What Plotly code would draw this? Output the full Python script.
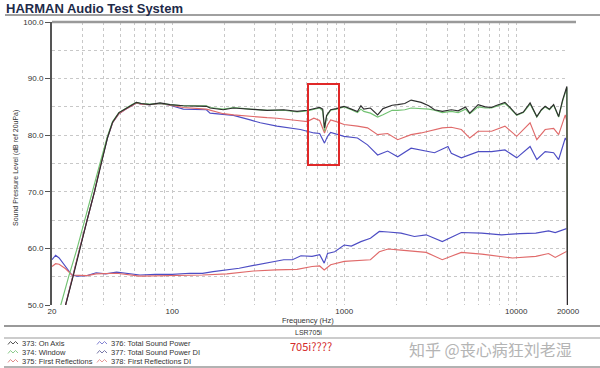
import plotly.graph_objects as go

# ---------------- data ----------------
freq_on_axis = [20, 22, 24, 26.5, 29, 32, 35.3, 38.5, 42, 45, 49, 53, 58, 62, 66, 74, 85, 97, 116, 158, 166, 198, 227, 284, 356, 445, 532, 609, 666, 720, 750, 768, 790, 834, 900, 998, 1100, 1194, 1250, 1300, 1420, 1564, 1680, 1900, 2046, 2250, 2448, 2800, 3100, 3350, 3716, 4194, 4600, 5066, 5368, 6008, 6600, 7189, 7580, 8598, 9200, 10067, 11000, 12038, 13174, 14000, 14733, 15600, 16498, 17646, 18600, 19287, 19700, 20000]
spl_on_axis = [38, 44, 50, 55, 60, 65, 70, 75, 79.5, 82.3, 84.0, 84.6, 85.3, 85.8, 85.6, 85.4, 85.7, 85.4, 85.2, 85.1, 84.8, 84.5, 84.8, 84.6, 84.4, 84.5, 84.2, 84.4, 84.7, 84.9, 84.6, 81.3, 83.5, 84.5, 84.7, 85.1, 84.6, 84.2, 85.2, 84.6, 84.8, 83.6, 84.7, 85.3, 85.4, 85.6, 86.2, 85.8, 85.2, 84.5, 84.2, 84.5, 84.3, 85.0, 83.9, 85.4, 85.0, 84.9, 85.2, 85.8, 84.9, 83.6, 84.1, 85.7, 83.3, 84.5, 85.1, 84.6, 85.4, 83.3, 86.2, 87.5, 88.6, 20]

freq_window = [20, 22.5, 25, 28, 31, 34.5, 38, 42, 45, 49, 53, 58, 62, 66, 74, 85, 97, 116, 158, 166, 198, 227, 284, 356, 445, 532, 609, 666, 720, 750, 768, 790, 834, 900, 998, 1100, 1194, 1250, 1300, 1420, 1564, 1680, 1900, 2046, 2250, 2448, 2800, 3100, 3350, 3716, 4194, 4600, 5066, 5368, 6008, 6600, 7189, 7580, 8598, 9200, 10067, 11000, 12038, 13174, 14000, 14733, 15600, 16498, 17646, 18600, 19287, 19700, 20000]
spl_window = [41, 50, 55, 60, 65, 70, 75, 79.8, 82.4, 84.0, 84.7, 85.4, 85.8, 85.6, 85.5, 85.6, 85.4, 85.2, 85.2, 84.9, 84.6, 84.9, 84.6, 84.4, 84.4, 84.1, 84.3, 84.6, 84.8, 84.3, 80.7, 83.3, 84.4, 84.6, 85.0, 84.5, 84.0, 84.6, 84.2, 83.9, 83.2, 83.6, 84.4, 84.4, 84.5, 84.8, 84.7, 84.6, 84.4, 84.0, 84.2, 84.0, 84.6, 83.8, 85.0, 84.8, 84.8, 85.0, 85.6, 84.8, 83.5, 84.0, 85.5, 83.2, 84.4, 85.0, 84.5, 85.3, 83.2, 86.0, 87.3, 88.4, 20]

freq_first_refl = [20, 24, 29, 35.3, 38.5, 42, 45, 49, 53, 58, 62, 66, 74, 85, 97, 116, 158, 166, 198, 227, 284, 356, 406, 445, 532, 609, 666, 720, 768, 800, 834, 900, 998, 1194, 1366, 1564, 1788, 2046, 2448, 2800, 3350, 3716, 4194, 4798, 5368, 6008, 7189, 8598, 10067, 12038, 13174, 14733, 16498, 17646, 19287, 19700, 20000]
spl_first_refl = [39, 50, 60, 70, 75, 79.6, 82.2, 83.8, 84.5, 85.2, 85.7, 85.5, 85.4, 85.6, 85.3, 84.9, 84.6, 84.4, 83.8, 83.6, 83.3, 83.1, 83.0, 82.9, 82.6, 82.4, 83.0, 82.6, 80.4, 81.8, 82.7, 82.4, 81.9, 81.6, 81.3, 80.1, 80.3, 79.2, 80.1, 80.4, 81.0, 81.3, 81.4, 81.0, 79.5, 80.7, 80.7, 81.6, 79.8, 82.2, 79.2, 81.0, 81.2, 80.1, 83.6, 82.5, 20]

freq_sound_power = [20, 24, 29, 35.3, 38.5, 42, 45, 49, 53, 58, 62, 66, 74, 85, 97, 116, 158, 166, 198, 227, 284, 325, 406, 486, 556, 609, 666, 720, 768, 800, 834, 998, 1194, 1366, 1564, 1788, 2046, 2448, 2800, 3350, 4010, 4194, 4798, 6008, 7189, 8598, 10067, 12038, 13174, 14733, 16498, 17646, 19287, 19700, 20000]
spl_sound_power = [38, 50, 60, 70, 75, 79.5, 82.2, 83.8, 84.5, 85.2, 85.7, 85.5, 85.4, 85.6, 85.3, 84.6, 84.5, 83.9, 83.7, 83.5, 82.7, 82.2, 81.6, 81.3, 81.0, 80.7, 80.4, 80.3, 78.6, 79.8, 80.5, 79.8, 79.5, 78.3, 76.5, 77.2, 76.2, 77.7, 77.3, 76.9, 78.0, 76.8, 76.0, 77.1, 77.1, 77.4, 76.0, 78.0, 75.7, 77.1, 76.9, 75.7, 79.5, 79.0, 20]

freq_sound_power_di = [20, 21, 22, 24, 26.1, 28, 32, 36.1, 41, 47.5, 55, 64.9, 80, 100, 126.5, 150, 173, 208, 245, 297, 350, 445, 500, 560, 650, 720, 765, 800, 880, 1000, 1100, 1250, 1420, 1600, 1800, 2139, 2560, 2995, 3716, 4798, 6300, 8222, 10500, 13000, 15420, 16860, 20000]
spl_sound_power_di = [58.0, 58.8, 58.3, 56.8, 55.3, 55.1, 55.2, 55.7, 55.5, 55.8, 55.6, 55.3, 55.4, 55.4, 55.6, 55.6, 55.9, 56.2, 56.5, 57.0, 57.4, 58.0, 58.0, 58.7, 58.6, 58.9, 57.4, 59.1, 59.4, 60.6, 60.4, 61.2, 61.8, 63.0, 62.9, 62.7, 62.1, 62.4, 61.2, 62.8, 62.7, 62.4, 62.6, 62.7, 63.1, 62.8, 63.6]

freq_first_refl_di = [20, 21, 22, 24, 26.1, 32, 36.1, 47.5, 64.9, 100, 150, 208, 297, 400, 532, 650, 720, 765, 834, 1000, 1250, 1420, 1600, 1800, 2139, 2560, 2995, 3716, 4798, 6300, 8222, 9500, 13000, 15420, 16860, 20000]
spl_first_refl_di = [56.8, 57.3, 57.2, 56.4, 55.3, 55.2, 55.5, 55.6, 55.1, 55.2, 55.3, 55.5, 56.0, 56.2, 56.3, 56.8, 56.9, 56.2, 57.1, 57.7, 57.9, 58.0, 59.4, 59.9, 59.7, 59.5, 59.3, 58.0, 59.3, 59.0, 58.6, 58.3, 58.6, 59.1, 58.4, 59.6]

x_tick_values = [20, 30, 40, 50, 60, 70, 80, 90, 100, 200, 300, 400, 500, 600, 700, 800, 900,
                 1000, 2000, 3000, 4000, 5000, 6000, 7000, 8000, 9000, 10000, 20000]
x_tick_labels = ["20", "", "", "", "", "", "", "", "100", "", "", "", "", "", "", "", "",
                 "1000", "", "", "", "", "", "", "", "", "10000", "20000"]

legend_col1 = ["373: On Axis", "374: Window", "375: First Reflections"]
legend_col2 = ["376: Total Sound Power", "377: Total Sound Power DI", "378: First Reflections DI"]

# ---------------- figure ----------------
C_ON = "#2e2e2e"
C_WIN = "#72c272"
C_FR = "#e06a6a"
C_SP = "#4d4dc4"

series = [
    (freq_sound_power_di, spl_sound_power_di, C_SP),
    (freq_first_refl_di, spl_first_refl_di, C_FR),
    (freq_sound_power, spl_sound_power, C_SP),
    (freq_first_refl, spl_first_refl, C_FR),
    (freq_window, spl_window, C_WIN),
    (freq_on_axis, spl_on_axis, C_ON),
]

fig = go.Figure()
for fx, fy, col in series:
    fig.add_trace(go.Scatter(x=fx, y=fy, mode="lines",
                             line=dict(color=col, width=1.15), hoverinfo="skip"))

L, R, T, B, W, H = 52, 32, 22, 63, 600, 368
PW, PH = W - L - R, H - T - B


def px(x):
    return (x - L) / PW


def py(y):
    return (H - B - y) / PH


FONT = "Arial, Liberation Sans, sans-serif"
GRID = "#c8c8c8"

fig.update_layout(
    width=W, height=H,
    margin=dict(l=L, r=R, t=T, b=B),
    paper_bgcolor="white", plot_bgcolor="white",
    showlegend=False,
    font=dict(family=FONT, size=8, color="#333"),
    xaxis=dict(type="log", range=[1.30103, 4.30103],
               tickvals=x_tick_values, ticktext=x_tick_labels,
               showgrid=True, gridcolor=GRID, griddash="dot", gridwidth=1,
               ticks="", showline=False, zeroline=False,
               tickfont=dict(size=8, color="#333")),
    yaxis=dict(range=[50, 100], tick0=50, dtick=10, tickformat=".1f",
               showgrid=True, gridcolor=GRID, griddash="dot", gridwidth=1,
               minor=dict(dtick=5, showgrid=True, gridcolor=GRID, griddash="dot"),
               showline=True, linecolor="#555", linewidth=2,
               ticks="outside", ticklen=5, tickcolor="#555",
               zeroline=False, tickfont=dict(size=8, color="#333")),
)

shapes = []
# title underline and plot top border
shapes.append(dict(type="line", xref="paper", yref="paper", x0=px(5), x1=px(600), y0=py(15), y1=py(15),
                   line=dict(color="#a0a0a0", width=2)))
shapes.append(dict(type="line", xref="paper", yref="paper", x0=px(52), x1=px(576), y0=py(22), y1=py(22),
                   line=dict(color="#9a9a9a", width=2.5)))
# bottom separators
for yy, c, w in [(326, "#777", 1.5), (338, "#999", 1), (367, "#999", 1.5)]:
    shapes.append(dict(type="line", xref="paper", yref="paper", x0=px(4), x1=px(600), y0=py(yy), y1=py(yy),
                       line=dict(color=c, width=w)))
# red highlight box
shapes.append(dict(type="rect", xref="paper", yref="paper", x0=px(308), x1=px(339), y0=py(165), y1=py(84),
                   line=dict(color="#e02828", width=2)))

# legend icons
icon_colors1 = ["#555555", "#8ccc8c", "#e08a8a"]
icon_colors2 = ["#8484d4", "#7878a8", "#e69a9a"]
rows_y = [343, 352, 361]


def wave(x0, yc, col):
    pts = [(0, 1.5), (2.5, -1.5), (5, 1), (7.5, -1.5), (10, 1)]
    d = "M " + " L ".join(f"{px(x0 + a):.5f},{py(yc + b):.5f}" for a, b in pts)
    return dict(type="path", xref="paper", yref="paper", path=d, line=dict(color=col, width=1))


for i, yy in enumerate(rows_y):
    shapes.append(wave(8, yy, icon_colors1[i]))
    shapes.append(wave(97, yy, icon_colors2[i]))

annotations = []


def text(t, x, y, size, color="#333", xanchor="left", family=FONT, angle=0):
    annotations.append(dict(text=t, x=px(x), y=py(y), xref="paper", yref="paper",
                            xanchor=xanchor, yanchor="middle", showarrow=False, textangle=angle,
                            font=dict(size=size, color=color, family=family)))


text("<b>HARMAN Audio Test System</b>", 4, 8, 13, color="#1d2a48")
text("Sound Pressure Level (dB ref 20uPa)", 16, 168, 7, xanchor="center", angle=-90)
text("Frequency (Hz)", 308, 320.5, 7.5, xanchor="center")
text("LSR705i", 308, 332, 7, xanchor="center")
for i, yy in enumerate(rows_y):
    text(legend_col1[i], 20, yy, 7.5)
    text(legend_col2[i], 109, yy, 7.5)
text("705i????", 311, 346, 11, color="#d42a2a", xanchor="center", family="Noto Sans CJK SC, sans-serif")
text("知乎 @丧心病狂刘老湿", 490, 349, 16, color="#b4b4b4", xanchor="center",
     family="Noto Sans CJK SC, sans-serif")

fig.update_layout(shapes=shapes, annotations=annotations)

fig.write_html("out.html", config={"displayModeBar": False},
               post_script="document.body.style.margin='0';document.body.style.overflow='hidden';")
